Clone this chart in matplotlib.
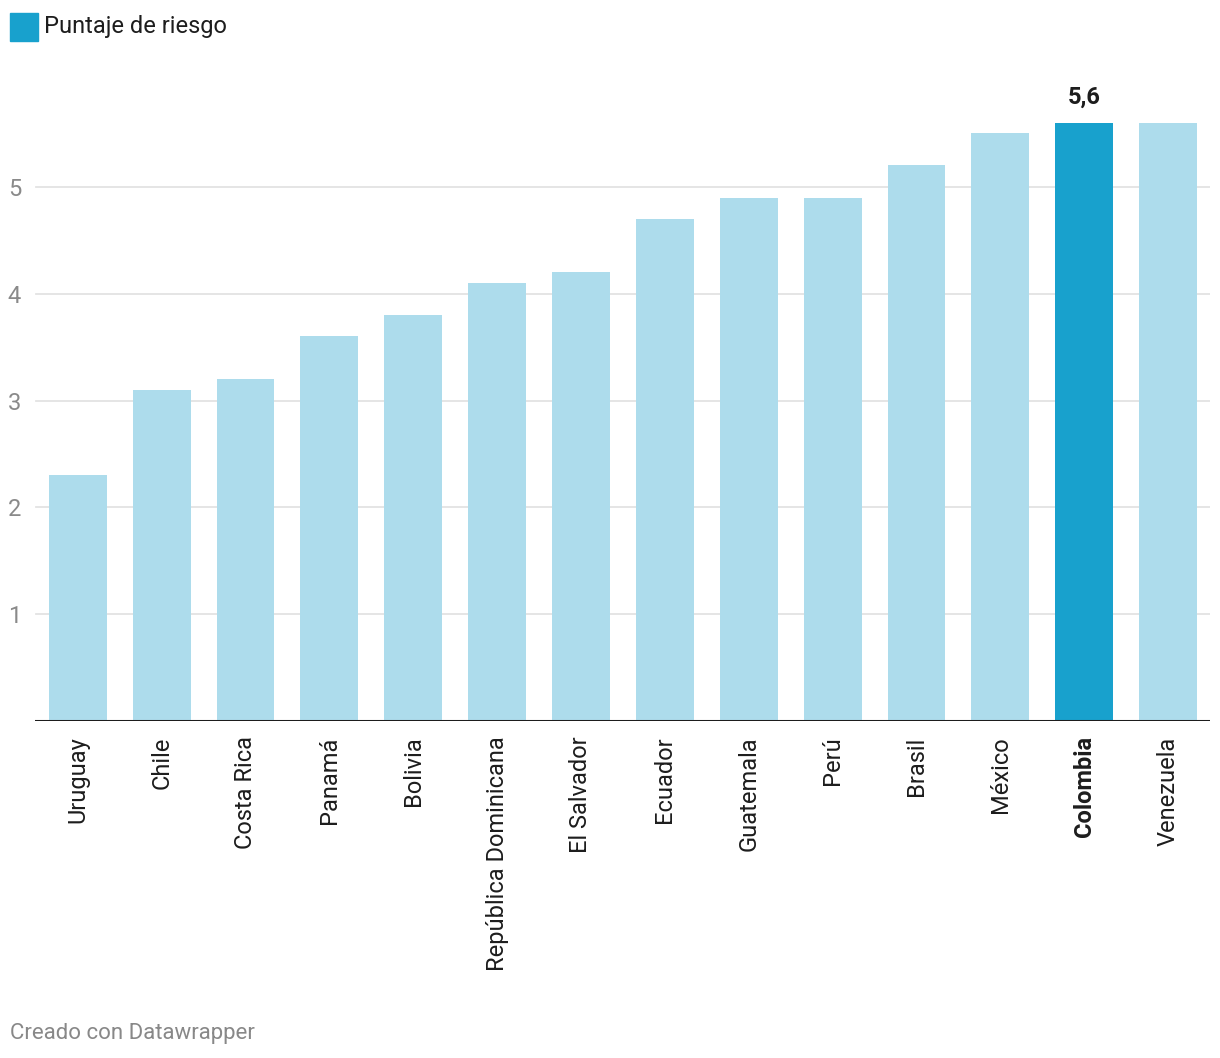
import matplotlib
matplotlib.use('Agg')
import matplotlib.pyplot as plt
from matplotlib.patches import Rectangle

plt.rcParams['font.family'] = ['Roboto', 'DejaVu Sans']

countries = ['Uruguay', 'Chile', 'Costa Rica', 'Panamá', 'Bolivia', 'República Dominicana',
             'El Salvador', 'Ecuador', 'Guatemala', 'Perú', 'Brasil', 'México', 'Colombia', 'Venezuela']
scores = [2.3, 3.1, 3.2, 3.6, 3.8, 4.1, 4.2, 4.7, 4.9, 4.9, 5.2, 5.5, 5.6, 5.6]
highlight = 'Colombia'
y_ticks = [1, 2, 3, 4, 5]

dark = '#18a1cd'
light = '#addcec'

W, H = 1220, 1058
fig = plt.figure(figsize=(W / 100, H / 100), dpi=100)
ax = fig.add_axes([35 / W, 1 - 721 / H, 1175 / W, 641 / H])

colors = [dark if c == highlight else light for c in countries]
xs = list(range(len(countries)))
ax.bar(xs, scores, width=0.69, color=colors, zorder=2)

ax.set_xlim(-0.51, len(countries) - 0.5)
ax.set_ylim(0, 6)

for y in y_ticks:
    ax.axhline(y, xmin=0.001, color='#e3e3e3', linewidth=1.3, zorder=1)
ax.axhline(0, color='#1d1d1d', linewidth=2.2, zorder=3)

ax.set_yticks(y_ticks)
ax.set_yticklabels([str(v) for v in y_ticks], color='#8a8a8a', fontsize=17)
ax.tick_params(axis='y', length=0, pad=10)

ax.set_xticks(xs)
ax.set_xticklabels(countries, rotation=90, fontsize=17, color='#1d1d1d', va='top')
ax.tick_params(axis='x', length=0, pad=11)
for lab in ax.get_xticklabels():
    if lab.get_text() == highlight:
        lab.set_fontweight('bold')

for side in ['top', 'right', 'left', 'bottom']:
    ax.spines[side].set_visible(False)

i = countries.index(highlight)
ax.annotate(f'{scores[i]:.1f}'.replace('.', ','), (i, scores[i]), xytext=(0, 10),
            textcoords='offset points', ha='center', va='bottom',
            fontsize=17, fontweight='bold', color='#1d1d1d')

# legend
fig.patches.append(Rectangle((10 / W, 1 - 41 / H), 28 / W, 28 / H, transform=fig.transFigure,
                             color=dark))
fig.text(44 / W, 1 - 26 / H, 'Puntaje de riesgo', fontsize=17, color='#1d1d1d', va='center')

fig.text(10 / W, 1 - 1033 / H, 'Creado con Datawrapper', fontsize=16, color='#888888', va='center')

fig.savefig('out.png', dpi=100)
